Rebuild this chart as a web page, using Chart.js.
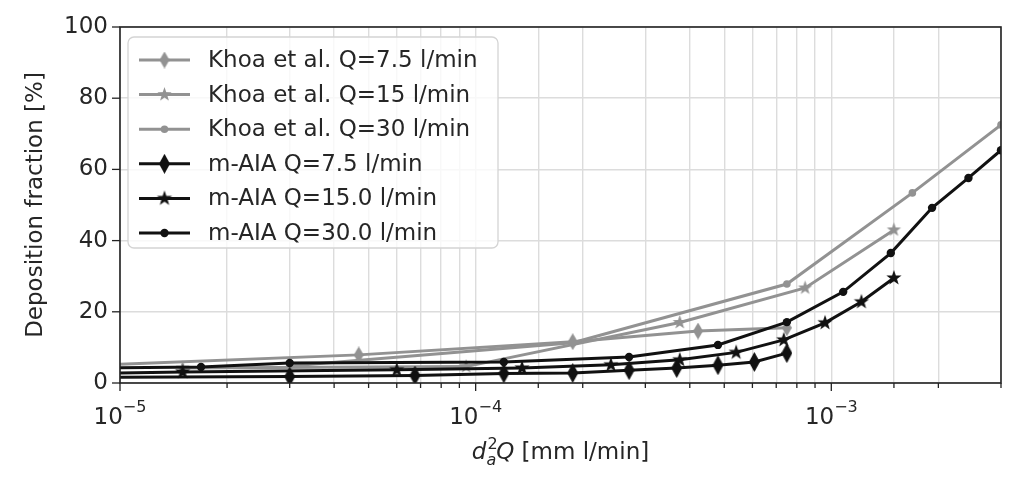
<!DOCTYPE html>
<html>
<head>
<meta charset="utf-8">
<script src="https://cdn.jsdelivr.net/npm/chart.js@4.4.1/dist/chart.umd.min.js"></script>
<style>
  html, body { margin: 0; padding: 0; background: #fff; }
  canvas { display: block; }
</style>
</head>
<body>
<canvas id="chart" width="1024" height="477"></canvas>
<script>
// Khoa et al. reference data
const khoa75X = [7.5e-6, 4.69e-5, 1.875e-4, 4.22e-4, 7.5e-4];
const khoa75Y = [4.8, 7.9, 11.6, 14.6, 15.5];
const khoa15X = [1.5e-5, 9.4e-5, 3.75e-4, 8.44e-4, 1.5e-3];
const khoa15Y = [4.2, 4.6, 17.0, 26.7, 43.0];
const khoa30X = [3e-5, 1.875e-4, 7.5e-4, 1.69e-3, 3e-3];
const khoa30Y = [4.8, 11.3, 27.8, 53.4, 72.5];

// m-AIA results
const maia75X = [7.5e-6, 3e-5, 6.75e-5, 1.2e-4, 1.875e-4, 2.7e-4, 3.675e-4, 4.8e-4, 6.075e-4, 7.5e-4];
const maia75Y = [1.6, 1.8, 2.1, 2.7, 2.8, 3.6, 4.2, 5.0, 5.9, 8.4];
const maia15X = [8.4e-6, 1.5e-5, 6e-5, 1.35e-4, 2.4e-4, 3.75e-4, 5.4e-4, 7.35e-4, 9.6e-4, 1.215e-3, 1.5e-3];
const maia15Y = [2.7, 3.1, 3.7, 4.2, 5.1, 6.5, 8.6, 12.1, 16.9, 22.8, 29.5];
const maia30X = [7.5e-6, 1.69e-5, 3e-5, 1.2e-4, 2.7e-4, 4.8e-4, 7.5e-4, 1.08e-3, 1.47e-3, 1.92e-3, 2.43e-3, 3e-3];
const maia30Y = [4.2, 4.5, 5.6, 5.9, 7.3, 10.7, 17.1, 25.6, 36.5, 49.2, 57.6, 65.4];

const seriesLabels = [
  'Khoa et al. Q=7.5 l/min',
  'Khoa et al. Q=15 l/min',
  'Khoa et al. Q=30 l/min',
  'm-AIA Q=7.5 l/min',
  'm-AIA Q=15.0 l/min',
  'm-AIA Q=30.0 l/min'
];

const yTicks = [0, 20, 40, 60, 80, 100];

const FONT = "'DejaVu Sans', 'Liberation Sans', sans-serif";
const FS = 23;      // main text size
const FS_SMALL = 16; // super/subscripts
const GREY = '#929292';
const BLACK = '#111111';
const TEXT = '#262626';

// marker shapes (matplotlib-ish thin diamond and star)
function thinDiamond(w, h, color) {
  const c = document.createElement('canvas');
  c.width = w; c.height = h;
  const g = c.getContext('2d');
  g.fillStyle = color;
  g.beginPath();
  g.moveTo(w / 2, 0);
  g.lineTo(w, h / 2);
  g.lineTo(w / 2, h);
  g.lineTo(0, h / 2);
  g.closePath();
  g.fill();
  return c;
}

function starMarker(r, color) {
  const size = Math.ceil(r * 2) + 2;
  const c = document.createElement('canvas');
  c.width = size; c.height = size;
  const g = c.getContext('2d');
  const cx = size / 2, cy = size / 2;
  g.fillStyle = color;
  g.beginPath();
  for (let i = 0; i < 10; i++) {
    const rad = (i % 2 === 0) ? r : r * 0.4;
    const a = -Math.PI / 2 + i * Math.PI / 5;
    const px = cx + rad * Math.cos(a), py = cy + rad * Math.sin(a);
    if (i === 0) g.moveTo(px, py); else g.lineTo(px, py);
  }
  g.closePath();
  g.fill();
  return c;
}

function pts(xs, ys) {
  return xs.map(function (x, i) { return { x: x, y: ys[i] }; });
}

function makeSet(label, xs, ys, color, style, radius, order) {
  return {
    label: label,
    data: pts(xs, ys),
    borderColor: color,
    backgroundColor: color,
    borderWidth: 3,
    pointStyle: style,
    pointRadius: radius,
    pointBorderWidth: 0,
    pointBackgroundColor: color,
    tension: 0,
    clip: 0,
    order: order
  };
}

const datasets = [
  makeSet(seriesLabels[0], khoa75X, khoa75Y, GREY, thinDiamond(10, 17, GREY), 6, 6),
  makeSet(seriesLabels[1], khoa15X, khoa15Y, GREY, starMarker(7.5, GREY), 6, 5),
  makeSet(seriesLabels[2], khoa30X, khoa30Y, GREY, 'circle', 3.8, 4),
  makeSet(seriesLabels[3], maia75X, maia75Y, BLACK, thinDiamond(11, 20, BLACK), 7, 3),
  makeSet(seriesLabels[4], maia15X, maia15Y, BLACK, starMarker(8, BLACK), 6, 2),
  makeSet(seriesLabels[5], maia30X, maia30Y, BLACK, 'circle', 4.2, 1)
];

// spines, tick marks, math-style labels and the legend
const decorations = {
  id: 'decorations',
  afterDatasetsDraw: function (chart) {
    const ctx = chart.ctx;
    const area = chart.chartArea;
    const xs = chart.scales.x;
    const ys = chart.scales.y;
    ctx.save();
    ctx.strokeStyle = '#222';
    ctx.lineWidth = 1.6;
    ctx.strokeRect(area.left, area.top, area.right - area.left, area.bottom - area.top);

    // x ticks
    ctx.lineWidth = 1.3;
    ctx.fillStyle = TEXT;
    ctx.textBaseline = 'alphabetic';
    xs.ticks.forEach(function (t) {
      const v = t.value;
      const lg = Math.log10(v);
      const major = Math.abs(lg - Math.round(lg)) < 1e-6;
      const px = xs.getPixelForValue(v);
      ctx.beginPath();
      ctx.moveTo(px, area.bottom);
      ctx.lineTo(px, area.bottom + (major ? 8 : 5));
      ctx.stroke();
      if (major) {
        const base = '10';
        const exp = String(Math.round(lg)).replace('-', '\u2212');
        ctx.font = FS + 'px ' + FONT;
        const w1 = ctx.measureText(base).width;
        ctx.font = FS_SMALL + 'px ' + FONT;
        const w2 = ctx.measureText(exp).width;
        const x0 = px - (w1 + w2) / 2;
        ctx.font = FS + 'px ' + FONT;
        ctx.textAlign = 'left';
        ctx.fillText(base, x0, 424);
        ctx.font = FS_SMALL + 'px ' + FONT;
        ctx.fillText(exp, x0 + w1, 412);
      }
    });

    // y ticks
    yTicks.forEach(function (v) {
      const py = ys.getPixelForValue(v);
      ctx.beginPath();
      ctx.moveTo(area.left, py);
      ctx.lineTo(area.left - 8, py);
      ctx.stroke();
    });

    // y title
    ctx.save();
    ctx.translate(36, (area.top + area.bottom) / 2);
    ctx.rotate(-Math.PI / 2);
    ctx.font = FS + 'px ' + FONT;
    ctx.textAlign = 'center';
    ctx.textBaseline = 'middle';
    ctx.fillText('Deposition fraction [%]', 0, 0);
    ctx.restore();

    // x title: d_a^2 Q [mm l/min]
    const parts = [
      { t: 'd', f: 'italic ' + FS + 'px ' + FONT, dy: 0, adv: true },
      { t: '2', f: FS_SMALL + 'px ' + FONT, dy: -10, adv: false },
      { t: 'a', f: 'italic ' + FS_SMALL + 'px ' + FONT, dy: 6, adv: true },
      { t: 'Q', f: 'italic ' + FS + 'px ' + FONT, dy: 0, adv: true },
      { t: ' [mm l/min]', f: FS + 'px ' + FONT, dy: 0, adv: true }
    ];
    let total = 0;
    parts.forEach(function (p) {
      ctx.font = p.f;
      p.w = ctx.measureText(p.t).width;
      if (p.adv) total += p.w;
    });
    let cx = (area.left + area.right) / 2 - total / 2;
    ctx.textAlign = 'left';
    parts.forEach(function (p) {
      ctx.font = p.f;
      ctx.fillText(p.t, cx + (p.t === '2' ? 1 : 0), 459 + p.dy);
      if (p.adv) cx += p.w;
    });
    ctx.restore();
  },
  afterDraw: function (chart) {
    const ctx = chart.ctx;
    const bx = 128, by = 37, bw = 370, bh = 211, r = 6;
    ctx.save();
    ctx.beginPath();
    ctx.moveTo(bx + r, by);
    ctx.arcTo(bx + bw, by, bx + bw, by + bh, r);
    ctx.arcTo(bx + bw, by + bh, bx, by + bh, r);
    ctx.arcTo(bx, by + bh, bx, by, r);
    ctx.arcTo(bx, by, bx + bw, by, r);
    ctx.closePath();
    ctx.fillStyle = 'rgba(255,255,255,0.8)';
    ctx.fill();
    ctx.strokeStyle = '#d4d4d4';
    ctx.lineWidth = 1.3;
    ctx.stroke();

    chart.data.datasets.forEach(function (ds, i) {
      const y = 60 + i * 34.6;
      ctx.strokeStyle = ds.borderColor;
      ctx.lineWidth = ds.borderWidth;
      ctx.beginPath();
      ctx.moveTo(139, y);
      ctx.lineTo(190, y);
      ctx.stroke();
      const st = ds.pointStyle;
      if (st === 'circle') {
        ctx.fillStyle = ds.pointBackgroundColor;
        ctx.beginPath();
        ctx.arc(164.5, y, ds.pointRadius, 0, Math.PI * 2);
        ctx.fill();
      } else {
        ctx.drawImage(st, 164.5 - st.width / 2, y - st.height / 2);
      }
      ctx.fillStyle = TEXT;
      ctx.font = FS + 'px ' + FONT;
      ctx.textAlign = 'left';
      ctx.textBaseline = 'middle';
      ctx.fillText(ds.label, 208, y + 1);
    });
    ctx.restore();
  }
};

const ctxEl = document.getElementById('chart').getContext('2d');
new Chart(ctxEl, {
  type: 'line',
  data: { datasets: datasets },
  options: {
    responsive: false,
    animation: false,
    devicePixelRatio: 1,
    layout: { padding: { top: 27, right: 23, left: 0, bottom: 0 } },
    plugins: {
      legend: { display: false },
      tooltip: { enabled: false }
    },
    scales: {
      x: {
        type: 'logarithmic',
        min: 1e-5,
        max: 3e-3,
        afterFit: function (s) { s.height = 94; },
        ticks: { display: false, autoSkip: false },
        grid: { color: '#dcdcdc', lineWidth: 1.4, drawTicks: false },
        border: { display: false }
      },
      y: {
        type: 'linear',
        min: 0,
        max: 100,
        afterFit: function (s) { s.width = 120; },
        afterBuildTicks: function (s) { s.ticks = yTicks.map(function (v) { return { value: v }; }); },
        ticks: { padding: 12, color: TEXT, font: { family: FONT, size: FS } },
        grid: { color: '#dcdcdc', lineWidth: 1.4, drawTicks: false },
        border: { display: false }
      }
    }
  },
  plugins: [decorations]
});
</script>
</body>
</html>
